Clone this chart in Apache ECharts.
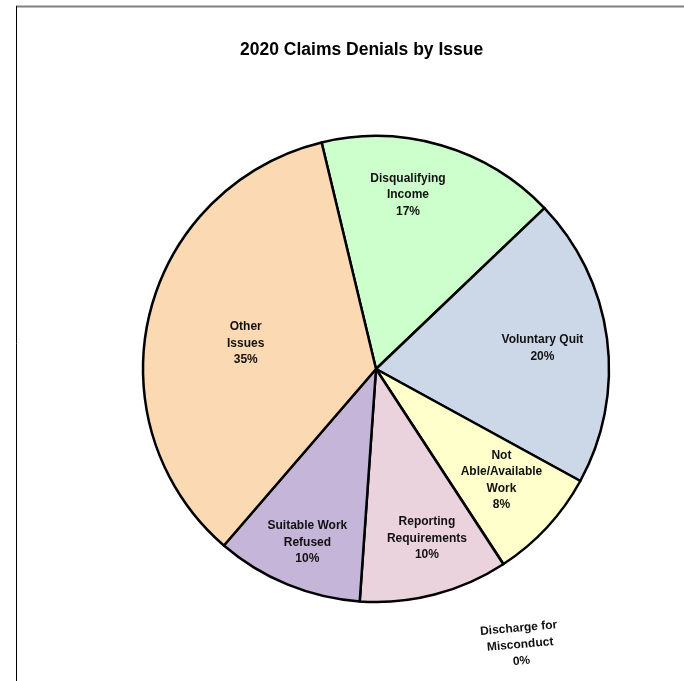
<!DOCTYPE html>
<html>
<head>
<meta charset="utf-8">
<script src="https://cdn.jsdelivr.net/npm/echarts@6/dist/echarts.min.js"></script>
<style>
html,body{margin:0;padding:0;background:#fff;}
#chart{width:684px;height:681px;}
</style>
</head>
<body>
<div id="chart"></div>
<script>
// ---- data ----
var categories = ['Disqualifying\nIncome', 'Voluntary Quit', 'Not\nAble/Available\nWork', 'Discharge for\nMisconduct', 'Reporting\nRequirements', 'Suitable Work\nRefused', 'Other\nIssues'];
var values = [16.6, 20.1, 7.8, 0.02, 10.3, 10.2, 34.9];
var titleText = '2020 Claims Denials by Issue';

// ---- style ----
var colors = ['#CCFFCC', '#CCD8E8', '#FFFFCC', '#FFFFCC', '#EBD3DD', '#C4B5D9', '#FAD9B3'];
var CX = 376, CY = 369, R = 233;
// label placement: [angle clockwise from 12 o'clock (deg), fraction of radius]
var labelPlace = [[10.4, 0.76], [82.8, 0.72], [131.6, 0.72], [152.4, 1.335], [163.3, 0.76], [201.6, 0.80], [281.2, 0.57]];

var chart = echarts.init(document.getElementById('chart'), null, {renderer: 'canvas'});
var data = categories.map(function (c, i) {
  var item = {name: c, value: values[i], itemStyle: {color: colors[i]}};
  if (i === 3) { item.label = {rotate: 5}; item.itemStyle.borderWidth = 0; }
  return item;
});
chart.setOption({
  backgroundColor: '#fff',
  animation: false,
  title: {
    text: titleText,
    left: 235, top: 36,
    textStyle: {fontFamily: 'Liberation Sans', fontWeight: 'bold', fontSize: 17.5, color: '#000'}
  },
  graphic: [
    {type: 'line', shape: {x1: 16, y1: 6.5, x2: 684, y2: 6.5}, style: {stroke: '#808080', lineWidth: 2}},
    {type: 'line', shape: {x1: 16.5, y1: 6, x2: 16.5, y2: 681}, style: {stroke: '#000', lineWidth: 1}}
  ],
  series: [{
    type: 'pie',
    center: [CX, CY],
    radius: R,
    startAngle: 103.5,
    clockwise: true,
    avoidLabelOverlap: false,
    minAngle: 0,
    itemStyle: {borderColor: '#000', borderWidth: 2.5},
    label: {
      show: true,
      position: 'inside',
      fontFamily: 'Liberation Sans',
      fontWeight: 'bold',
      fontSize: 12,
      lineHeight: 16.5,
      color: '#111',
      align: 'center',
      formatter: function (p) { return p.name + '\n' + Math.round(p.percent) + '%'; }
    },
    labelLine: {show: false},
    labelLayout: function (p) {
      var lp = labelPlace[p.dataIndex];
      var a = lp[0] * Math.PI / 180;
      return {
        x: CX + R * lp[1] * Math.sin(a),
        y: CY - R * lp[1] * Math.cos(a),
        align: 'center',
        verticalAlign: 'middle'
      };
    },
    emphasis: {disabled: true},
    data: data
  }]
});
</script>
</body>
</html>
